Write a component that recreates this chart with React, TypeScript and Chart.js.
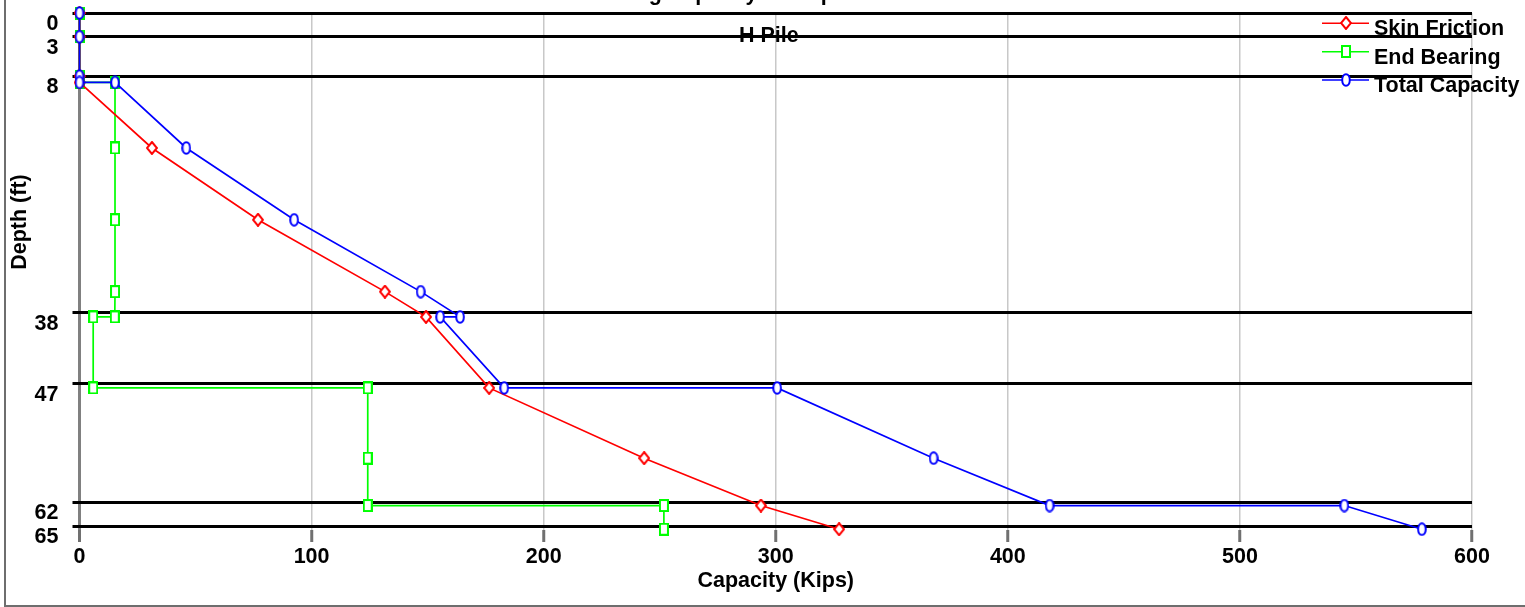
import React, { useEffect, useRef } from "react";
import { Chart, registerables } from "chart.js";

Chart.register(...registerables);

// ---------- data ----------
const chartTitle = "Bearing Capacity vs Depth";
const subTitle = "H Pile";
const xAxisTitle = "Capacity (Kips)";
const yAxisTitle = "Depth (ft)";

const layerDepths = [0, 3, 8, 38, 47, 62, 65];

const skinDepth = [0, 3, 8, 8.8, 17.1, 26.2, 35.3, 38.5, 47.5, 56.4, 62.4, 65.4];
const skinFriction = [0, 0, 0, 0, 31.2, 76.9, 131.6, 149.3, 176.5, 243.3, 293.6, 327.3];

const endDepth = [0, 3, 8, 8.8, 8.8, 17.1, 26.2, 35.3, 38.5, 38.5, 47.5, 47.5, 56.4, 62.4, 62.4, 65.4];
const endBearing = [0, 0, 0, 0, 15.3, 15.3, 15.3, 15.3, 15.2, 5.9, 5.9, 124.2, 124.2, 124.2, 251.8, 251.8];

const totalDepth = [0, 3, 8, 8.8, 8.8, 17.1, 26.2, 35.3, 38.5, 38.5, 47.5, 47.5, 56.4, 62.4, 62.4, 65.4];
const totalCapacity = [0, 0, 0, 0, 15.3, 46, 92.5, 147, 164, 155.4, 183, 300.6, 368, 418, 545, 578.4];

const seriesNames = ["Skin Friction", "End Bearing", "Total Capacity"];
const seriesColors = ["#ff0000", "#00ff00", "#0000ff"];

const FONT = "'Liberation Sans', Arial, Helvetica, sans-serif";
const FSIZE = 21.5;

function makeMarker(kind: string, color: string): HTMLCanvasElement {
  const c = document.createElement("canvas");
  let w = 10;
  let h = 13;
  if (kind === "diamond") { w = 12; h = 14; }
  else if (kind === "square") { w = 10; h = 13; }
  else { w = 10; h = 14; }
  c.width = w;
  c.height = h;
  const ctx = c.getContext("2d")!;
  ctx.strokeStyle = color;
  ctx.fillStyle = "#ffffff";
  ctx.lineWidth = 2;
  ctx.beginPath();
  if (kind === "diamond") {
    ctx.moveTo(w / 2, 1);
    ctx.lineTo(w - 1, h / 2);
    ctx.lineTo(w / 2, h - 1);
    ctx.lineTo(1, h / 2);
    ctx.closePath();
  } else if (kind === "square") {
    ctx.rect(1, 1, w - 2, h - 2);
  } else {
    ctx.ellipse(w / 2, h / 2, w / 2 - 1.2, h / 2 - 1.2, 0, 0, Math.PI * 2);
  }
  ctx.fill();
  ctx.stroke();
  return c;
}

export default function App() {
  const ref = useRef<HTMLCanvasElement | null>(null);

  useEffect(() => {
    const canvas = ref.current;
    if (!canvas) return;

    const markers = [
      makeMarker("diamond", seriesColors[0]),
      makeMarker("square", seriesColors[1]),
      makeMarker("ellipse", seriesColors[2]),
    ];

    const toPts = (xs: number[], ys: number[]) => xs.map((v, i) => ({ x: v, y: ys[i] }));

    const decorPlugin = {
      id: "decor",
      afterDraw(chart: any) {
        const ctx = chart.ctx as CanvasRenderingContext2D;
        const area = chart.chartArea;
        ctx.save();
        // frame
        ctx.strokeStyle = "#6e6e6e";
        ctx.lineWidth = 2;
        ctx.beginPath();
        ctx.moveTo(5, 0);
        ctx.lineTo(5, 606);
        ctx.lineTo(1525, 606);
        ctx.stroke();

        ctx.fillStyle = "#000";
        ctx.font = `bold ${FSIZE}px ${FONT}`;
        ctx.textAlign = "center";
        ctx.textBaseline = "alphabetic";
        // main title (mostly above the visible page)
        ctx.fillText(chartTitle, 718, -0.5);
        // sub title
        ctx.fillText(subTitle, (area.left + area.right) / 2 - 7, 41.5);

        // y axis title
        ctx.save();
        ctx.translate(20, 222);
        ctx.rotate(-Math.PI / 2);
        ctx.textBaseline = "middle";
        ctx.fillText(yAxisTitle, 0, 0);
        ctx.restore();

        // legend
        const rowsLine = [23.3, 51.7, 80];
        for (let i = 0; i < 3; i++) {
          const y = rowsLine[i];
          ctx.strokeStyle = seriesColors[i];
          ctx.lineWidth = 1.6;
          ctx.beginPath();
          ctx.moveTo(1322, y);
          ctx.lineTo(1369, y);
          ctx.stroke();
          const m = markers[i];
          ctx.drawImage(m, Math.round(1346 - m.width / 2), Math.round(y - m.height / 2));
          ctx.fillStyle = "#000";
          ctx.textAlign = "left";
          ctx.textBaseline = "alphabetic";
          ctx.fillText(seriesNames[i], 1374, y + 12);
        }
        ctx.restore();
      },
    };

    const chart = new Chart(canvas, {
      type: "scatter",
      data: {
        datasets: [
          {
            label: seriesNames[0],
            data: toPts(skinFriction, skinDepth),
            showLine: true,
            borderColor: seriesColors[0],
            borderWidth: 1.7,
            pointStyle: markers[0] as any,
            pointRadius: 5,
            clip: false as any,
            order: 1,
          },
          {
            label: seriesNames[1],
            data: toPts(endBearing, endDepth),
            showLine: true,
            borderColor: seriesColors[1],
            borderWidth: 1.7,
            pointStyle: markers[1] as any,
            pointRadius: 5,
            clip: false as any,
            order: 2,
          },
          {
            label: seriesNames[2],
            data: toPts(totalCapacity, totalDepth),
            showLine: true,
            borderColor: seriesColors[2],
            borderWidth: 1.7,
            pointStyle: markers[2] as any,
            pointRadius: 5,
            clip: false as any,
            order: 0,
          },
        ],
      },
      options: {
        responsive: false,
        animation: false,
        devicePixelRatio: 1,
        layout: { padding: { top: 13, right: 53, bottom: 0, left: 0 } },
        plugins: {
          legend: { display: false },
          title: { display: false },
          tooltip: { enabled: false },
        },
        scales: {
          x: {
            type: "linear",
            min: 0,
            max: 600,
            ticks: {
              stepSize: 100,
              color: "#000",
              font: { family: FONT, size: FSIZE, weight: "bold" },
              padding: 2,
            },
            grid: {
              color: (c: any) => (c.tick && c.tick.value === 0 ? "#808080" : "#c8c8c8"),
              lineWidth: (c: any) => (c.tick && c.tick.value === 0 ? 3 : 1.5),
              tickColor: "#707070",
              tickWidth: 3,
              tickLength: 12,
            },
            border: { display: false },
            title: {
              display: true,
              text: xAxisTitle,
              color: "#000",
              font: { family: FONT, size: FSIZE, weight: "bold" },
              padding: { top: 0, bottom: 13 },
            },
            afterFit(scale: any) {
              scale.height = 77;
              scale.paddingLeft = 0;
              scale.paddingRight = 0;
            },
          },
          y: {
            type: "linear",
            reverse: true,
            min: 0,
            max: 65.5,
            afterBuildTicks(scale: any) {
              scale.ticks = layerDepths.map((v) => ({ value: v }));
            },
            ticks: {
              color: "#000",
              font: { family: FONT, size: FSIZE, weight: "bold" },
              padding: 14,
              labelOffset: 11,
              autoSkip: false,
            },
            grid: {
              color: "#000",
              lineWidth: 3,
              tickColor: "#000",
              tickWidth: 3,
              tickLength: 7,
            },
            border: { display: false },
            afterFit(scale: any) {
              scale.width = 79.5;
              scale.paddingTop = 0;
              scale.paddingBottom = 0;
            },
          },
        },
      },
      plugins: [decorPlugin],
    } as any);

    return () => chart.destroy();
  }, []);

  return (
    <div style={{ position: "absolute", left: 0, top: 0, width: 1525, height: 607, background: "#fff" }}>
      <canvas ref={ref} width={1525} height={607} style={{ display: "block" }} />
    </div>
  );
}
